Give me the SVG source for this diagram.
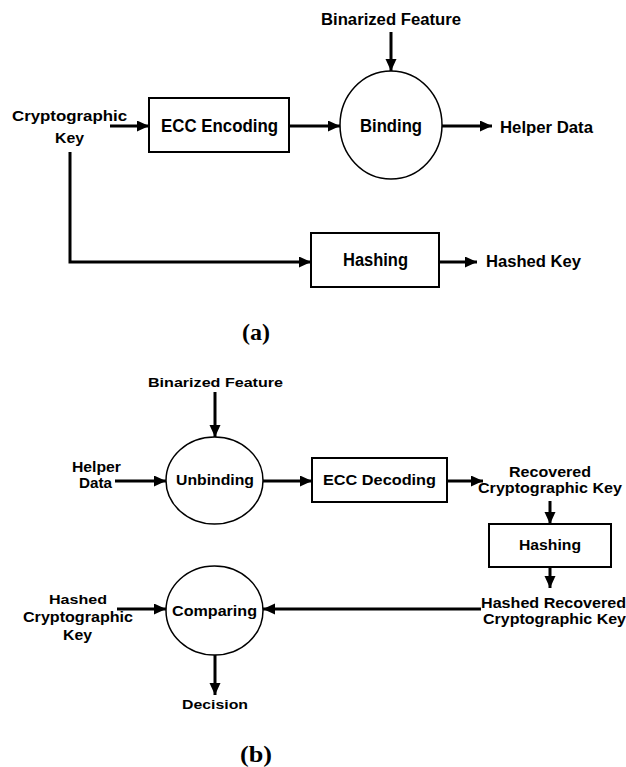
<svg xmlns="http://www.w3.org/2000/svg" width="626" height="767" viewBox="0 0 626 767">
<style>
.t{font-family:"Liberation Sans",Arial,sans-serif;font-weight:bold;fill:#000}
.cap{font-family:"Liberation Serif","Times New Roman",serif;font-weight:bold;fill:#000}
.ln{stroke:#000;stroke-width:3;fill:none}
.box{fill:#fff;stroke:#000;stroke-width:2}
.cir{fill:#fff;stroke:#000;stroke-width:1.5}
</style>
<defs>
<marker id="ah" markerUnits="userSpaceOnUse" markerWidth="13" markerHeight="12" refX="12" refY="5.5" orient="auto">
<path d="M0,0 L12,5.5 L0,11 z" fill="#000"/>
</marker>
</defs>
<rect width="626" height="767" fill="#fff"/>

<g id="connectors">
<path class="ln" d="M110,126 H149" marker-end="url(#ah)"/>
<path class="ln" d="M289,126 H340" marker-end="url(#ah)"/>
<path class="ln" d="M391,32 V71" marker-end="url(#ah)"/>
<path class="ln" d="M442,126 H492" marker-end="url(#ah)"/>
<path class="ln" d="M70,152 V262 H311" marker-end="url(#ah)"/>
<path class="ln" d="M439,262 H477" marker-end="url(#ah)"/>
<path class="ln" d="M215,392 V437" marker-end="url(#ah)"/>
<path class="ln" d="M115,481 H166" marker-end="url(#ah)"/>
<path class="ln" d="M263,481 H312" marker-end="url(#ah)"/>
<path class="ln" d="M447,481 H483" marker-end="url(#ah)"/>
<path class="ln" d="M550,501 V524" marker-end="url(#ah)"/>
<path class="ln" d="M550,567 V588" marker-end="url(#ah)"/>
<path class="ln" d="M481,609 H263" marker-end="url(#ah)"/>
<path class="ln" d="M117,609 H166" marker-end="url(#ah)"/>
<path class="ln" d="M215,655 V695" marker-end="url(#ah)"/>
</g>

<g id="a-binfeat"><text class="t" x="321" y="25" font-size="16" textLength="140" lengthAdjust="spacingAndGlyphs">Binarized Feature</text></g>
<g id="a-cryptokey">
<text class="t" x="12" y="121" font-size="15" textLength="115" lengthAdjust="spacingAndGlyphs">Cryptographic</text>
<text class="t" x="55" y="143" font-size="15" textLength="29" lengthAdjust="spacingAndGlyphs">Key</text>
</g>
<g id="a-ecc"><rect class="box" x="149" y="98" width="140" height="54"/>
<text class="t" x="161" y="132" font-size="19" textLength="117" lengthAdjust="spacingAndGlyphs">ECC Encoding</text></g>
<g id="a-binding"><ellipse class="cir" cx="391" cy="125" rx="51" ry="54"/>
<text class="t" x="360" y="132" font-size="17.5" textLength="62" lengthAdjust="spacingAndGlyphs">Binding</text></g>
<g id="a-helper"><text class="t" x="500" y="133" font-size="16.3" textLength="93" lengthAdjust="spacingAndGlyphs">Helper Data</text></g>
<g id="a-hashing"><rect class="box" x="311" y="233" width="128" height="54"/>
<text class="t" x="343" y="266" font-size="17.5" textLength="65" lengthAdjust="spacingAndGlyphs">Hashing</text></g>
<g id="a-hashedkey"><text class="t" x="486" y="267" font-size="16" textLength="95" lengthAdjust="spacingAndGlyphs">Hashed Key</text></g>
<g id="cap-a"><text class="cap" x="242" y="340" font-size="24" textLength="28" lengthAdjust="spacingAndGlyphs">(a)</text></g>

<g id="b-binfeat"><text class="t" x="148" y="387" font-size="13.5" textLength="135" lengthAdjust="spacingAndGlyphs">Binarized Feature</text></g>
<g id="b-helper">
<text class="t" x="72" y="472" font-size="14" textLength="49" lengthAdjust="spacingAndGlyphs">Helper</text>
<text class="t" x="79" y="488" font-size="14" textLength="33" lengthAdjust="spacingAndGlyphs">Data</text>
</g>
<g id="b-unbinding"><ellipse class="cir" cx="214.5" cy="480.5" rx="48.5" ry="43.5"/>
<text class="t" x="176" y="485" font-size="14" textLength="78" lengthAdjust="spacingAndGlyphs">Unbinding</text></g>
<g id="b-ecc"><rect class="box" x="312" y="458" width="135" height="44"/>
<text class="t" x="323" y="485" font-size="14" textLength="113" lengthAdjust="spacingAndGlyphs">ECC Decoding</text></g>
<g id="b-recovered">
<text class="t" x="509" y="477" font-size="14" textLength="82" lengthAdjust="spacingAndGlyphs">Recovered</text>
<text class="t" x="478" y="493" font-size="14" textLength="144" lengthAdjust="spacingAndGlyphs">Cryptographic Key</text>
</g>
<g id="b-hashing"><rect class="box" x="489" y="524" width="122" height="43"/>
<text class="t" x="519" y="550" font-size="14" textLength="62" lengthAdjust="spacingAndGlyphs">Hashing</text></g>
<g id="b-hashedrec">
<text class="t" x="481" y="608" font-size="14" textLength="145" lengthAdjust="spacingAndGlyphs">Hashed Recovered</text>
<text class="t" x="483" y="624" font-size="14" textLength="143" lengthAdjust="spacingAndGlyphs">Cryptographic Key</text>
</g>
<g id="b-hashedkey">
<text class="t" x="49" y="604" font-size="13" textLength="58" lengthAdjust="spacingAndGlyphs">Hashed</text>
<text class="t" x="23" y="622" font-size="14" textLength="110" lengthAdjust="spacingAndGlyphs">Cryptographic</text>
<text class="t" x="63" y="640" font-size="14" textLength="29" lengthAdjust="spacingAndGlyphs">Key</text>
</g>
<g id="b-comparing"><ellipse class="cir" cx="214.5" cy="610.5" rx="48.5" ry="44.5"/>
<text class="t" x="172" y="616" font-size="14" textLength="85" lengthAdjust="spacingAndGlyphs">Comparing</text></g>
<g id="b-decision"><text class="t" x="182" y="709" font-size="13" textLength="66" lengthAdjust="spacingAndGlyphs">Decision</text></g>
<g id="cap-b"><text class="cap" x="240" y="762" font-size="24" textLength="32" lengthAdjust="spacingAndGlyphs">(b)</text></g>
</svg>
